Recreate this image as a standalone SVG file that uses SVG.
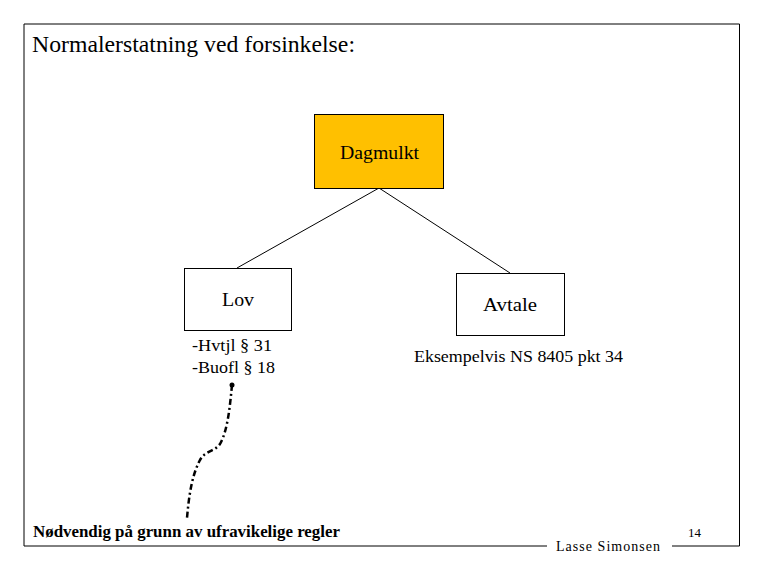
<svg xmlns="http://www.w3.org/2000/svg" width="765" height="570" viewBox="0 0 765 570">
<style>
.t{font-family:"Liberation Serif","Times New Roman",serif;fill:#000}
.box{fill:#fff;stroke:#000;stroke-width:1}
.ln{stroke:#000;stroke-width:1;fill:none}
</style>
<rect x="0" y="0" width="765" height="570" fill="#fff"/>
<g id="frame">
<path class="ln" d="M547,546 H24 V24 H739.5 V546 H672"/>
</g>
<text class="t" x="32" y="52" font-size="23" textLength="323" lengthAdjust="spacingAndGlyphs">Normalerstatning ved forsinkelse:</text>
<g id="connectors">
<line class="ln" x1="379" y1="188" x2="237" y2="268"/>
<line class="ln" x1="379" y1="188" x2="510" y2="273"/>
<path d="M232,385 C230,405 228,430 220,444 C214,452 206,450 200,460 C192,475 189,495 187,518" fill="none" stroke="#000" stroke-width="2.5" stroke-dasharray="6,3,2,3"/>
<circle cx="232" cy="385" r="2.5" fill="#000"/>
</g>
<g id="dagmulkt">
<rect x="314.5" y="114.5" width="129" height="74" fill="#FFC000" stroke="#000" stroke-width="1"/>
<text class="t" x="340" y="159" font-size="18" textLength="79" lengthAdjust="spacingAndGlyphs">Dagmulkt</text>
</g>
<g id="lov">
<rect class="box" x="184.5" y="268.5" width="107" height="62"/>
<text class="t" x="222" y="306" font-size="18" textLength="32" lengthAdjust="spacingAndGlyphs">Lov</text>
<text class="t" x="192" y="351" font-size="17" textLength="80" lengthAdjust="spacingAndGlyphs">-Hvtjl § 31</text>
<text class="t" x="192" y="373" font-size="17" textLength="83" lengthAdjust="spacingAndGlyphs">-Buofl § 18</text>
</g>
<g id="avtale">
<rect class="box" x="456.5" y="273.5" width="108" height="62"/>
<text class="t" x="483" y="311" font-size="18" textLength="54" lengthAdjust="spacingAndGlyphs">Avtale</text>
<text class="t" x="414" y="362" font-size="17" textLength="209" lengthAdjust="spacingAndGlyphs">Eksempelvis NS 8405 pkt 34</text>
</g>
<g id="note">
<text class="t" x="33" y="537" font-size="16" font-weight="bold" textLength="307" lengthAdjust="spacingAndGlyphs">Nødvendig på grunn av ufravikelige regler</text>
</g>
<text class="t" x="556" y="551" font-size="14" textLength="104" lengthAdjust="spacing">Lasse Simonsen</text>
<text class="t" x="688" y="537" font-size="13">14</text>
</svg>
